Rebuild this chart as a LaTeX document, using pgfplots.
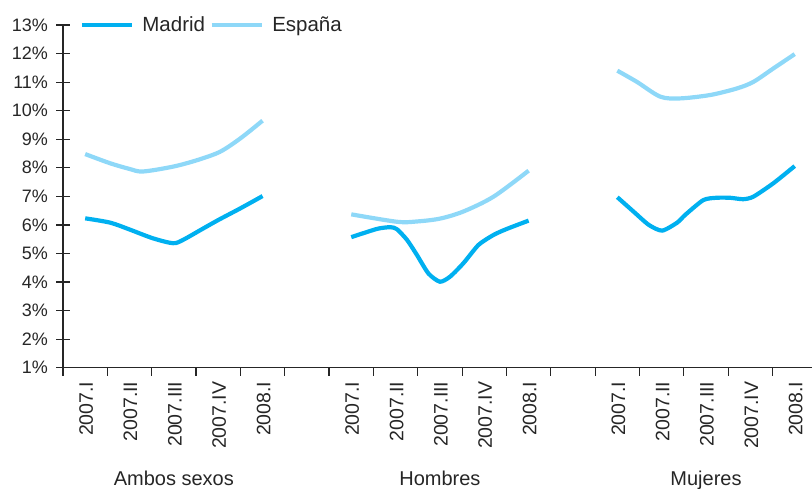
\documentclass[border=0pt]{standalone}
\usepackage{fontspec}
\setmainfont{Liberation Sans}
\usepackage{pgfplots}
\pgfplotsset{compat=1.18}
\definecolor{madrid}{RGB}{0,176,240}
\definecolor{espana}{RGB}{142,216,248}
\begin{document}
\begin{tikzpicture}[font=\fontsize{18}{21}\selectfont]
\path[use as bounding box] (-63pt,-121.3pt) rectangle (749pt,367.7pt);
\begin{axis}[
  at={(0pt,0pt)}, anchor=south west,
  scale only axis, width=749pt, height=342.7pt,
  xmin=-0.5, xmax=16.39, ymin=1, ymax=13,
  axis x line*=bottom, axis y line*=left,
  axis line style={line width=1.2pt, color=black!85},
  clip=false,
  /pgf/number format/assume math mode=true,
  ytick={1,2,...,13},
  yticklabel={\pgfmathprintnumber{\tick}\%},
  tick align=center,
  major tick length=13pt,
  tick style={line width=1.2pt, color=black!85},
  yticklabel style={text=black!85, xshift=-5pt, font=\fontsize{18}{21}\selectfont},
  xtick={0,1,2,3,4,6,7,8,9,10,12,13,14,15,16},
  xticklabels={2007.I,2007.II,2007.III,2007.IV,2008.I,2007.I,2007.II,2007.III,2007.IV,2008.I,2007.I,2007.II,2007.III,2007.IV,2008.I},
  xtick style={draw=none},
  xticklabel style={yshift=-4pt, xshift=1pt, rotate=90, anchor=east, text=black!85, font=\fontsize{19.5}{22}\selectfont},
  extra x ticks={-0.5,0.5,...,16.5},
  extra x tick labels={},
  extra tick style={tick align=outside, major tick length=8pt, xtick style={draw=black!85, line width=1.2pt}},
  legend style={at={(axis description cs:0,1)}, anchor=west, xshift=17pt, draw=none, fill=none, inner sep=0pt,
    legend columns=-1, text=black!85, font=\fontsize{20.5}{23}\selectfont,
    /tikz/every even column/.append style={column sep=5pt},
    /tikz/every odd column/.append style={column sep=9pt},
    nodes={inner sep=0pt}},
  legend image code/.code={\draw[#1, line width=3.2pt] (0pt,0pt) -- (50pt,0pt);},
]
% Ambos sexos
\addplot[madrid, line width=4.2pt, smooth, tension=0.5] coordinates {
(0,6.23) (0.56,6.08) (1.0,5.84) (1.53,5.53) (1.98,5.36) (2.2,5.47) (2.6,5.82) (3.0,6.17) (3.5,6.58) (4.0,7.01)};
\addlegendentry{Madrid}
\addplot[espana, line width=4.2pt, smooth, tension=0.5] coordinates {
(0,8.48) (0.56,8.16) (1.0,7.96) (1.3,7.87) (1.98,8.04) (2.53,8.27) (3.04,8.56) (3.5,9.03) (4.0,9.65)};
\addlegendentry{España}
% Hombres
\addplot[madrid, line width=4.2pt, smooth, tension=0.4, forget plot] coordinates {
(6.0,5.57) (6.58,5.86) (6.88,5.92) (7.03,5.85) (7.26,5.47) (7.48,4.95) (7.74,4.30) (8.0,4.01) (8.23,4.19) (8.53,4.66) (8.87,5.30) (9.21,5.65) (9.51,5.86) (10.0,6.15)};
\addplot[espana, line width=4.2pt, smooth, tension=0.5, forget plot] coordinates {
(6.0,6.37) (7.03,6.11) (7.48,6.12) (8.0,6.22) (8.53,6.47) (9.21,6.99) (10.0,7.90)};
% Mujeres
\addplot[madrid, line width=4.2pt, smooth, tension=0.4, forget plot] coordinates {
(12.0,6.97) (12.37,6.46) (12.71,6.00) (13.01,5.80) (13.35,6.08) (13.53,6.35) (13.94,6.87) (14.24,6.95) (14.54,6.95) (14.84,6.90) (15.07,6.99) (15.52,7.46) (16.0,8.06)};
\addplot[espana, line width=4.2pt, smooth, tension=0.5, forget plot] coordinates {
(12.0,11.40) (12.44,11.01) (12.97,10.49) (13.42,10.43) (14.1,10.55) (14.7,10.78) (15.07,11.01) (15.52,11.48) (16.0,11.98)};
% group labels
\node[text=black!85, font=\fontsize{20}{23}\selectfont, anchor=base] at (axis cs:2,1) [yshift=-118pt] {Ambos sexos};
\node[text=black!85, font=\fontsize{20}{23}\selectfont, anchor=base] at (axis cs:8,1) [yshift=-118pt] {Hombres};
\node[text=black!85, font=\fontsize{20}{23}\selectfont, anchor=base] at (axis cs:14,1) [yshift=-118pt] {Mujeres};
\end{axis}
\end{tikzpicture}
\end{document}
